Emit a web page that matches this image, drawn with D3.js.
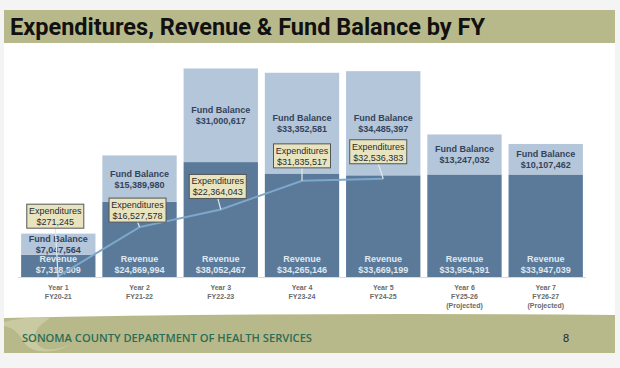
<!DOCTYPE html>
<html>
<head>
<meta charset="utf-8">
<script src="https://cdn.jsdelivr.net/npm/d3@7"></script>
<style>
  body { margin: 0; background: #f4f4f4; }
  svg { display: block; }
</style>
</head>
<body>
<div id="chart"></div>
<script>
// data
var years = ["Year 1", "Year 2", "Year 3", "Year 4", "Year 5", "Year 6", "Year 7"];
var fiscal = ["FY20-21", "FY21-22", "FY22-23", "FY23-24", "FY24-25", "FY25-26", "FY26-27"];
var projected = [false, false, false, false, false, true, true];
var revenue = [7318809, 24869994, 38052467, 34265146, 33669199, 33954391, 33947039];
var fundBalance = [7047564, 15389980, 31000617, 33352581, 34485397, 13247032, 10107462];
var expenditures = [271245, 16527578, 22364043, 31835517, 32536383];

// where the callouts sit (box bottom above the point, x nudge)
var calloutLift = [48, 5, 11, 13, 15];
var calloutShift = [-3, -2, -3, 0, -5];

var svgWidth = 620, svgHeight = 368;
var fmt = d3.format("$,");

var svg = d3.select("#chart").append("svg")
  .attr("width", svgWidth)
  .attr("height", svgHeight);

// slide background
svg.append("rect").attr("x", 4).attr("y", 10).attr("width", 611).attr("height", 343).attr("fill", "#ffffff");

// title band
svg.append("rect").attr("x", 4).attr("y", 10).attr("width", 611).attr("height", 33).attr("fill", "#b8b98a");
svg.append("text")
  .attr("x", 10).attr("y", 35)
  .attr("font-family", "Roboto, 'Liberation Sans', sans-serif")
  .attr("font-weight", 700)
  .attr("font-size", 24)
  .attr("textLength", 475)
  .attr("lengthAdjust", "spacingAndGlyphs")
  .attr("fill", "#111")
  .text("Expenditures, Revenue & Fund Balance by FY");

// scales
var x = d3.scaleBand()
  .domain(years)
  .range([19.5, 584.5])
  .paddingInner(0.085)
  .paddingOuter(0.02);

var y = d3.scaleLinear()
  .domain([0, 70e6])
  .range([277, 277 - 70 * 3.02]);

var chart = svg.append("g");

// baseline
chart.append("line")
  .attr("x1", 18).attr("x2", 586)
  .attr("y1", y(0) + 0.5).attr("y2", y(0) + 0.5)
  .attr("stroke", "#d9d9d9");

// revenue segments
chart.selectAll(".rev")
  .data(years)
  .enter()
  .append("rect")
  .attr("x", function(d) { return x(d); })
  .attr("width", x.bandwidth())
  .attr("y", function(d, i) { return y(revenue[i]); })
  .attr("height", function(d, i) { return y(0) - y(revenue[i]); })
  .attr("fill", "#5b7a9a");

// fund balance segments
chart.selectAll(".fund")
  .data(years)
  .enter()
  .append("rect")
  .attr("x", function(d) { return x(d); })
  .attr("width", x.bandwidth())
  .attr("y", function(d, i) { return y(revenue[i] + fundBalance[i]); })
  .attr("height", function(d, i) { return y(revenue[i]) - y(revenue[i] + fundBalance[i]); })
  .attr("fill", "#b4c6da");

var labelFont = "'Liberation Sans', Arial, sans-serif";

// fund balance labels, centred in their segment
years.forEach(function(d, i) {
  var cx = x(d) + x.bandwidth() / 2;
  var mid = (y(revenue[i]) + y(revenue[i] + fundBalance[i])) / 2;
  var g = chart.append("g")
    .attr("font-family", labelFont)
    .attr("font-weight", 700)
    .attr("font-size", 9)
    .attr("fill", "#34435a")
    .attr("text-anchor", "middle");
  g.append("text").attr("x", cx).attr("y", mid - 2).text("Fund Balance");
  g.append("text").attr("x", cx).attr("y", mid + 9).text(fmt(fundBalance[i]));

  var r = chart.append("g")
    .attr("font-family", labelFont)
    .attr("font-weight", 700)
    .attr("font-size", 9)
    .attr("fill", "#dfe7ef")
    .attr("text-anchor", "middle");
  r.append("text").attr("x", cx).attr("y", y(0) - 15).text("Revenue");
  r.append("text").attr("x", cx).attr("y", y(0) - 4).text(fmt(revenue[i]));

  // x axis labels
  var a = chart.append("g")
    .attr("font-family", labelFont)
    .attr("font-weight", 700)
    .attr("font-size", 7)
    .attr("fill", "#6a6a6a")
    .attr("text-anchor", "middle");
  a.append("text").attr("x", cx).attr("y", 290).text(d);
  a.append("text").attr("x", cx).attr("y", 299).text(fiscal[i]);
  if (projected[i]) a.append("text").attr("x", cx).attr("y", 308).text("(Projected)");
});

// expenditures line
var pts = expenditures.map(function(v, i) {
  return [x(years[i]) + x.bandwidth() / 2, y(v)];
});

chart.append("path")
  .attr("d", d3.line()(pts))
  .attr("fill", "none")
  .attr("stroke", "#7ea8cb")
  .attr("stroke-width", 2);

// callouts
pts.forEach(function(p, i) {
  var bw = 57, bh = 24;
  var bx = p[0] + calloutShift[i] - bw / 2;
  var by = p[1] - calloutLift[i] - bh;
  chart.append("line")
    .attr("x1", p[0] + calloutShift[i]).attr("y1", by + bh)
    .attr("x2", p[0]).attr("y2", p[1] + (i === 0 ? 4 : 0))
    .attr("stroke", "#dfe7ef")
    .attr("stroke-width", 1.2);
  chart.append("rect")
    .attr("x", bx).attr("y", by)
    .attr("width", bw).attr("height", bh)
    .attr("fill", "#e8e4bf")
    .attr("stroke", "#555")
    .attr("stroke-width", 1);
  var t = chart.append("g")
    .attr("font-family", labelFont)
    .attr("font-size", 9)
    .attr("fill", "#2b2b2b")
    .attr("text-anchor", "middle");
  t.append("text").attr("x", bx + bw / 2).attr("y", by + 10).text("Expenditures");
  t.append("text").attr("x", bx + bw / 2).attr("y", by + 21).text(fmt(expenditures[i]));
});

// footer band
svg.append("path")
  .attr("d", "M4,318 Q300,312 615,315 L615,353 L4,353 Z")
  .attr("fill", "#b8b98a");
svg.append("path")
  .attr("d", "M4,322 C20,318 40,316 50,318 C40,325 30,332 38,345 C45,352 60,350 70,344 C60,352 40,354 30,348 C20,342 22,330 4,326 Z")
  .attr("fill", "#cdcea8")
  .attr("opacity", 0.8);
svg.append("text")
  .attr("x", 22).attr("y", 342)
  .attr("font-family", "'Open Sans', 'Noto Sans', sans-serif")
  .attr("font-size", 10)
  .attr("font-weight", 600)
  .attr("textLength", 290)
  .attr("lengthAdjust", "spacingAndGlyphs")
  .attr("fill", "#2a6d58")
  .text("SONOMA COUNTY DEPARTMENT OF HEALTH SERVICES");
svg.append("text")
  .attr("x", 563).attr("y", 342)
  .attr("font-family", "'Liberation Sans', Arial, sans-serif")
  .attr("font-size", 11)
  .attr("fill", "#222")
  .text("8");
</script>
</body>
</html>
